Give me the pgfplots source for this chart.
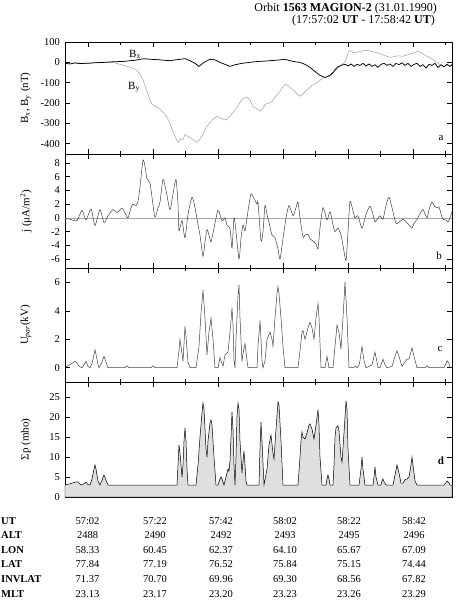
\documentclass[border=0pt]{standalone}
\usepackage{fontspec}
\setmainfont{Liberation Serif}
\usepackage{pgfplots}
\pgfplotsset{compat=1.18}

\pgfplotsset{panel/.style={
  scale only axis, width=387pt, anchor=north west,
  xmin=65, xmax=452,
  xtick={88,153,218,283,348,413},
  minor xtick={120.5,185.5,250.5,315.5,380.5,445.5},
  xticklabel=\empty,
  tick align=inside, major tick length=5pt, minor tick length=3pt,
  axis line style={line width=0.6pt},
  every tick/.style={black, line width=0.5pt},
  yticklabel style={font=\fontsize{10.5}{12}\selectfont, /pgf/number format/assume math mode=true, xshift=-1.5pt},
  every axis y label/.style={at={(axis description cs:-0.101,0.5)}, rotate=90, anchor=center, font=\fontsize{11}{13}\selectfont},
}}

\begin{document}
\begin{tikzpicture}[x=1pt,y=1pt]

% ---------------- panel a
\begin{axis}[panel, at={(65pt,-42pt)}, height=112pt, ymin=-451, ymax=100,
  ytick={-400,-300,-200,-100,0,100},
  ylabel={B\textsubscript{x}, B\textsubscript{y} (nT)}]
\addplot[gray!75, line width=0.5pt] coordinates {
(65,-5)(75,-3)(85,-5)(95,-2)(105,0)(113,0)(120,-10)(126,-18)(132,-27)(137,-40)(141,-65)(144,-100)(147,-143)(150,-185)(152,-207)(156,-218)(160,-231)(164,-250)(167,-271)(170,-300)(173,-340)(176,-375)(178,-394)(181,-375)(183,-380)(185,-355)(188,-365)(190,-370)(193,-380)(197,-394)(200,-378)(203,-355)(206,-320)(210,-296)(214,-275)(217,-266)(221,-275)(224,-283)(227,-281)(230,-265)(233,-246)(236,-230)(239,-205)(242,-182)(245,-175)(247,-172)(250,-185)(253,-217)(256,-225)(260,-241)(263,-225)(265,-207)(269,-200)(272,-192)(276,-165)(280,-143)(283,-120)(285,-108)(288,-115)(290,-123)(294,-140)(297,-155)(300,-167)(304,-150)(307,-135)(310,-123)(313,-110)(317,-100)(320,-88)(323,-78)(326,-72)(330,-62)(334,-48)(338,-28)(342,-10)(345,0)(347,30)(349,59)(351,52)(354,48)(357,49)(361,55)(364,58)(367,59)(371,55)(374,50)(377,49)(381,40)(385,33)(390,25)(394,28)(398,32)(403,30)(408,38)(413,45)(418,54)(421,48)(424,38)(427,30)(431,20)(434,10)(437,0)(440,-12)(443,-20)(447,-15)(450,-18)(452,-10)};
\addplot[black, line width=0.75pt] coordinates {
(65,-5)(70,-8)(75,-3)(80,-6)(85,-5)(90,-4)(95,-2)(100,-1)(105,0)(110,2)(115,3)(120,4)(125,5)(130,8)(135,10)(140,15)(145,18)(150,15)(155,14)(160,12)(165,10)(170,8)(175,12)(180,15)(185,18)(190,8)(195,-5)(199,-20)(204,0)(210,15)(215,12)(220,0)(225,-10)(230,-20)(235,-12)(242,-5)(250,0)(255,3)(260,5)(265,6)(270,8)(275,10)(280,12)(285,15)(290,8)(296,2)(300,0)(305,-10)(310,-25)(315,-45)(320,-64)(325,-75)(330,-65)(333,-50)(337,-25)(341,-15)(345,-10)(348,-18)(351,-8)(354,-20)(357,-10)(360,-15)(363,-5)(366,-18)(369,-8)(372,-20)(375,-12)(378,-25)(381,-10)(384,-5)(387,-15)(390,-8)(393,-20)(396,-5)(399,-12)(402,-2)(405,-15)(408,-5)(411,-20)(414,-10)(417,-5)(420,-20)(423,-12)(426,-28)(429,-10)(432,-15)(435,-5)(438,-25)(441,-12)(444,-22)(447,-10)(450,-20)(452,-12)};
\end{axis}

% ---------------- panel b
\begin{axis}[panel, at={(65pt,-154pt)}, height=114pt, ymin=-7.3, ymax=9.3,
  ytick={-6,-4,-2,0,2,4,6,8},
  ylabel={j (μA/m\textsuperscript{2})}]
\addplot[gray!70, line width=0.5pt] coordinates {(65,0)(452,0)};
\addplot[gray!50!black, line width=0.5pt, smooth, tension=0.4] coordinates {
(65,0)(70,-0.2)(77,-0.4)(82,1.1)(86,-0.3)(91,1.3)(95,-1.1)(100,1.2)(104,-0.7)(108,0.3)(113,1.2)(117,0.8)(122,1.4)(125,0.7)(128,0)(131,1.5)(133,2.0)(136,1.8)(138,2.4)(140,4.5)(143,8.4)(145,7.5)(147,5.7)(150,5.1)(152,3.0)(155,0.1)(158,1.5)(160,2.3)(163,5.6)(166,4.0)(170,1.2)(173,3.5)(176,5.6)(178,2)(179,-1.9)(182,-0.4)(185,-2.9)(188,0.5)(192,3.0)(195,1.5)(198,-1.0)(200,-2.5)(203,-5.6)(205,-3.5)(207,-1.7)(209,-2.5)(211,-3.5)(214,-1.5)(218,1.1)(222,-0.4)(225,0)(227,-1.1)(230,-1.5)(232,-4.4)(234,0)(236,-2)(239,-6.0)(241,-3)(243,-1.0)(245,-1.9)(248,1.0)(251,3.5)(254,2.8)(257,2.0)(258,2.2)(261,-3.3)(263,-2)(265,1.8)(267,0.5)(270,-1.3)(272,-2.5)(275,-2.9)(278,-4.5)(280,-6.0)(283,-3.0)(286,0)(289,1.8)(293,0.3)(296,1.5)(298,2.3)(300,0)(303,-2.8)(305,-2.5)(308,-2.4)(310,-3.0)(313,-3.4)(316,-3.8)(318,-4.5)(320,-1.5)(323,1.5)(327,-0.3)(330,0.9)(333,-1.0)(335,-2.0)(338,-1.5)(341,-2.5)(343,-4)(346,-6.2)(348,-2)(350,2.4)(353,1.0)(355,0)(358,0.3)(362,-1.5)(366,0.5)(370,1.7)(373,0.5)(375,-0.6)(378,0)(380,0.3)(383,-0.2)(386,1.8)(389,3.0)(392,1.5)(396,-0.8)(400,-0.5)(403,-0.2)(405,-0.4)(407,-0.7)(410,-1.2)(412,-1.5)(414,-0.8)(417,-0.2)(420,0.6)(423,1.2)(427,0)(429,1.2)(432,2.3)(435,1.6)(437,1.5)(439,1.6)(441,0.6)(443,-0.2)(446,-0.3)(448,-0.6)(450,0)(452,0.9)};
\end{axis}

% ---------------- panel c
\begin{axis}[panel, at={(65pt,-268pt)}, height=114pt, ymin=-1, ymax=7,
  ytick={0,2,4,6},
  ylabel={U\textsubscript{\textit{par}}(kV)}]
\addplot[gray!50!black, line width=0.5pt] coordinates {
(65,0)(68,0.15)(72,0.3)(75,0.45)(77,0.35)(79,0.1)(82,0)(84,0.2)(86,0.45)(88,0.1)(90,0)(92,0.3)(93,0.6)(95,1.27)(97,0.6)(98,0.2)(99,0)(102,0.4)(104,0.8)(106,0.4)(108,0)(125,0)(127,0.15)(129,0)(151,0)(153,0.15)(155,0)(177,0)(179,1.2)(180,2.0)(182,1.0)(183,0.45)(185,2.9)(186,2.2)(188,0.4)(190,0)(196,0)(199,1.5)(201,3.8)(203,5.45)(205,3.5)(207,0.9)(209,2.5)(211,3.5)(213,2.0)(215,0)(218,0)(220,0.7)(222,0.3)(223,0.1)(225,0.9)(228,1.1)(230,2.5)(232,4.2)(233,3)(234,0.5)(235,0)(236,2)(238,5)(239,5.8)(240,3.5)(242,0.45)(243,1)(245,1.7)(247,0.5)(248,0)(257,0)(258,1.5)(260,3.3)(261,2)(262,0.5)(263,0)(265,0.5)(267,2.0)(270,2.5)(272,2.0)(273,1.5)(275,3.5)(277,5.2)(278,5.7)(279,5.2)(281,3.5)(283,1.5)(285,0)(298,0)(300,1.2)(302,2.5)(303,2.6)(305,2.0)(308,2.8)(310,3.2)(312,2.8)(314,2.0)(316,3.5)(318,4.5)(319,3.5)(321,0)(325,0)(327,0.8)(329,0)(333,0)(335,1.5)(337,3.0)(339,2.5)(341,1.3)(343,3.5)(345,6.0)(347,3.5)(349,0)(353,0)(355,0.1)(357,0)(359,0.2)(360,0.5)(362,1.5)(364,0.5)(366,0)(372,0.2)(375,1.1)(377,0.4)(378,0)(380,0)(383,0.6)(385,0.2)(387,0)(392,0.1)(395,0.8)(397,1.2)(399,0.8)(402,0.1)(404,0.3)(407,0.6)(409,0.6)(412,1.4)(414,0.8)(417,0)(425,0)(427,0.15)(429,0)(444,0)(446,0.3)(447,0.5)(449,0.3)(450,0)(452,0)};
\end{axis}

% ---------------- panel d
\begin{axis}[panel, at={(65pt,-382pt)}, height=115pt, ymin=0, ymax=28.75,
  ytick={0,5,10,15,20,25},
  ylabel={Σp (mho)}]
\addplot[fill=gray!25, draw=black, line width=0.5pt] coordinates {
(65,3)(70,3.3)(75,3.7)(78,3.8)(80,3.2)(82,3)(84,3.3)(86,3.7)(88,3.1)(90,3)(92,4.5)(94,7)(95,8)(96,7)(98,4)(100,3)(102,4.2)(104,5.5)(106,4.2)(108,3)(177,3)(178,8)(179,13)(180,11)(182,5)(183,8)(184,14)(185,17.3)(186,14)(187,7)(188,3)(196,3)(198,8)(200,15)(202,21)(203,23.5)(204,22)(205,17)(206,12)(207,10)(208,14)(210,18.5)(211,19.3)(212,18)(214,10)(216,3)(218,3)(220,4.5)(221,5)(222,4.5)(224,3)(226,5)(228,7)(229,6.5)(230,9)(231,15)(232,21.3)(233,17)(234,8)(235,3)(236,10)(237,20)(238,23.5)(239,22)(240,14)(242,6)(243,9)(244,11.5)(245,8)(246,4)(247,3)(259,3)(260,12)(261,18.8)(262,14)(264,3)(267,7)(269,13)(271,15.5)(273,11)(274,9.5)(276,17)(278,23.8)(279,23)(281,14)(283,3)(298,3)(300,10)(301,14)(302,16.3)(303,15)(305,14.5)(307,16)(309,18)(310,18.3)(312,17)(314,14.5)(316,18)(318,21.8)(319,18)(320,10)(322,3)(326,3)(327,4.5)(328,5.5)(329,4.5)(330,3)(333,3)(334,8)(335,15)(336,17.3)(338,17.8)(339,16.5)(341,10)(342,8.7)(344,16)(346,24)(347,22)(348,12)(350,3)(359,3)(361,7)(362,10)(363,7)(365,3)(373,3)(374,5)(375,7.5)(376,5)(378,3)(381,3)(382,4)(383,4.5)(384,3.8)(386,3)(393,3)(395,5.5)(397,8)(399,6)(401,3.5)(403,3.5)(405,4.3)(407,4.5)(409,5)(411,8)(412,10)(413,8)(415,4)(417,3)(444,3)(446,3.6)(447,4)(449,3.5)(450,3)(452,3)} \closedcycle;
\end{axis}

% ---------------- annotations
\begin{scope}[every node/.style={inner sep=0pt}]
\node[anchor=base west, font=\fontsize{11}{13}\selectfont] at (129pt,-57pt) {B\textsubscript{x}};
\node[anchor=base west, font=\fontsize{11}{13}\selectfont] at (128pt,-89pt) {B\textsubscript{y}};
\node[font=\fontsize{11}{13}\selectfont] at (441pt,-138pt) {a};
\node[font=\fontsize{11}{13}\selectfont] at (439pt,-256pt) {b};
\node[font=\fontsize{11}{13}\selectfont] at (440pt,-349pt) {c};
\node[font=\bfseries\fontsize{11}{13}\selectfont] at (441pt,-461pt) {d};

\node[anchor=base east, font=\fontsize{12}{14}\selectfont] at (437pt,-11pt) {Orbit \textbf{1563 MAGION-2} (31.01.1990)};
\node[anchor=base east, font=\fontsize{12}{14}\selectfont] at (435pt,-23pt) {(17:57:02 \textbf{UT} - 17:58:42 \textbf{UT})};

% table rows
\begin{scope}[every node/.append style={font=\bfseries\fontsize{10.5}{12}\selectfont, anchor=base west}]
\node at (1pt,-524.5pt) {UT};
\node at (1pt,-538.5pt) {ALT};
\node at (1pt,-553pt) {LON};
\node at (1pt,-567.5pt) {LAT};
\node at (1pt,-582.5pt) {INVLAT};
\node at (1pt,-597pt) {MLT};
\end{scope}
\begin{scope}[every node/.append style={font=\fontsize{10.5}{12}\selectfont, anchor=base}]
\foreach \x/\a/\b/\c/\d/\e/\f in {87.5/57:02/2488/58.33/77.84/71.37/23.13,
  155/57:22/2490/60.45/77.19/70.70/23.17,
  221/57:42/2492/62.37/76.52/69.96/23.20,
  285/58:02/2493/64.10/75.84/69.30/23.23,
  349/58:22/2495/65.67/75.15/68.56/23.26,
  414/58:42/2496/67.09/74.44/67.82/23.29}{
  \node at (\x pt,-524.5pt) {\a};
  \node at (\x pt,-538.5pt) {\b};
  \node at (\x pt,-553pt) {\c};
  \node at (\x pt,-567.5pt) {\d};
  \node at (\x pt,-582.5pt) {\e};
  \node at (\x pt,-597pt) {\f};
}
\end{scope}
\end{scope}

\pgfresetboundingbox
\useasboundingbox (0pt,0pt) rectangle (462pt,-606pt);
\end{tikzpicture}
\end{document}
